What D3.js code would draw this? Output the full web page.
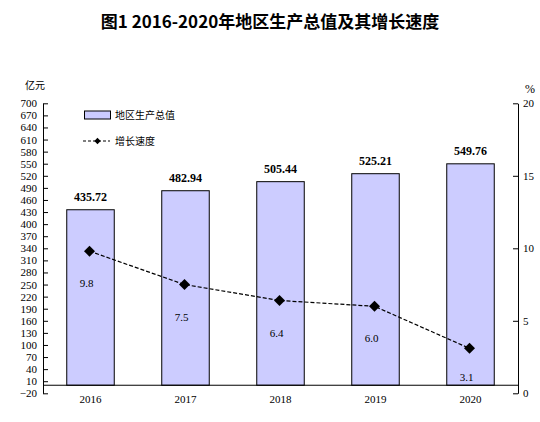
<!DOCTYPE html>
<html>
<head>
<meta charset="utf-8">
<script src="https://cdn.jsdelivr.net/npm/d3@7"></script>
<style>
  body { margin: 0; background: #fff; }
  svg { display: block; }
</style>
</head>
<body>
<div id="container"></div>
<script>
// chart data
const years = [ '2016', '2017', '2018', '2019', '2020' ];
const gdpValues = [ 435.72, 482.94, 505.44, 525.21, 549.76 ];
const growthValues = [ 9.8, 7.5, 6.4, 6.0, 3.1 ];
const leftTicks = d3.range( -20, 701, 30 );
const rightTicks = [ 0, 5, 10, 15, 20 ];

const width = 540;
const height = 422;
const numFont = '"Liberation Serif", "DejaVu Serif", serif';
const cjkFont = '"Noto Sans CJK SC", sans-serif';

//_____ SVG _____
const svg = d3.select( '#container' )
  .append( 'svg' )
  .attr( 'width', width )
  .attr( 'height', height );

//_____ SCALES _____
const x = d3.scaleBand()
  .domain( years )
  .range( [ 43, 518 ] )
  .paddingInner( 0.5 )
  .paddingOuter( 0.25 );

const yLeft = d3.scaleLinear()
  .domain( [ -20, 700 ] )
  .range( [ 393.3, 103.3 ] );

const yRight = d3.scaleLinear()
  .domain( [ 0, 20 ] )
  .range( [ 393.3, 103.3 ] );

//_____ TITLE _____
svg.append( 'text' )
  .attr( 'x', 270 )
  .attr( 'y', 28 )
  .attr( 'text-anchor', 'middle' )
  .style( 'font-family', cjkFont )
  .style( 'font-size', '17px' )
  .style( 'font-weight', 'bold' )
  .text( '图1 2016-2020年地区生产总值及其增长速度' );

//_____ AXES _____
const leftAxis = d3.axisLeft( yLeft )
  .tickValues( leftTicks )
  .tickSizeInner( -5 )
  .tickSizeOuter( 0 )
  .tickPadding( 6 );

const gLeft = svg.append( 'g' )
  .attr( 'transform', 'translate(43,0)' )
  .call( leftAxis );

const rightAxis = d3.axisRight( yRight )
  .tickValues( rightTicks )
  .tickSizeInner( -5 )
  .tickSizeOuter( 0 );

const gRight = svg.append( 'g' )
  .attr( 'transform', 'translate(518,0)' )
  .call( rightAxis );

[ gLeft, gRight ].forEach( g => {
  g.selectAll( 'path, line' ).attr( 'stroke', '#000' ).attr( 'stroke-width', 1 );
  g.selectAll( 'text' )
    .style( 'font-family', numFont )
    .style( 'font-size', '11px' )
    .attr( 'fill', '#000' );
} );
gLeft.selectAll( 'text' ).attr( 'x', -6 );
gRight.selectAll( 'text' ).attr( 'x', 5 );

// unit labels
svg.append( 'text' )
  .attr( 'x', 35 )
  .attr( 'y', 89 )
  .attr( 'text-anchor', 'middle' )
  .style( 'font-family', cjkFont )
  .style( 'font-size', '10px' )
  .text( '亿元' );

svg.append( 'text' )
  .attr( 'x', 530 )
  .attr( 'y', 93 )
  .attr( 'text-anchor', 'middle' )
  .style( 'font-family', numFont )
  .style( 'font-size', '12px' )
  .text( '%' );

//_____ BARS _____
svg.selectAll( '.bar' )
  .data( gdpValues )
  .enter()
  .append( 'rect' )
  .attr( 'class', 'bar' )
  .attr( 'x', ( d, i ) => x( years[ i ] ) )
  .attr( 'width', x.bandwidth() )
  .attr( 'y', d => yLeft( d ) )
  .attr( 'height', d => yLeft( 0 ) - yLeft( d ) )
  .attr( 'fill', '#ccccff' )
  .attr( 'stroke', '#000' )
  .attr( 'stroke-width', 1 );

// zero baseline
svg.append( 'line' )
  .attr( 'x1', 43 )
  .attr( 'x2', 518 )
  .attr( 'y1', yLeft( 0 ) )
  .attr( 'y2', yLeft( 0 ) )
  .attr( 'stroke', '#000' );

// bar value labels
svg.selectAll( '.bar-label' )
  .data( gdpValues )
  .enter()
  .append( 'text' )
  .attr( 'class', 'bar-label' )
  .attr( 'x', ( d, i ) => x( years[ i ] ) + x.bandwidth() / 2 )
  .attr( 'y', d => yLeft( d ) - 9 )
  .attr( 'text-anchor', 'middle' )
  .style( 'font-family', numFont )
  .style( 'font-size', '12px' )
  .style( 'font-weight', 'bold' )
  .text( d => d.toFixed( 2 ) );

// year labels
svg.selectAll( '.year-label' )
  .data( years )
  .enter()
  .append( 'text' )
  .attr( 'class', 'year-label' )
  .attr( 'x', d => x( d ) + x.bandwidth() / 2 )
  .attr( 'y', 403 )
  .attr( 'text-anchor', 'middle' )
  .style( 'font-family', numFont )
  .style( 'font-size', '11px' )
  .text( d => d );

//_____ GROWTH LINE _____
const cx = i => x( years[ i ] ) + x.bandwidth() / 2 - 1;

const line = d3.line()
  .x( ( d, i ) => cx( i ) )
  .y( d => yRight( d ) );

svg.append( 'path' )
  .datum( growthValues )
  .attr( 'd', line )
  .attr( 'fill', 'none' )
  .attr( 'stroke', '#000' )
  .attr( 'stroke-width', 1.2 )
  .attr( 'stroke-dasharray', '4,2' );

const diamond = d3.symbol().type( d3.symbolSquare ).size( 60 );

svg.selectAll( '.marker' )
  .data( growthValues )
  .enter()
  .append( 'path' )
  .attr( 'class', 'marker' )
  .attr( 'd', diamond )
  .attr( 'transform', ( d, i ) => `translate(${cx( i )},${yRight( d )}) rotate(45)` )
  .attr( 'fill', '#000' );

svg.selectAll( '.growth-label' )
  .data( growthValues )
  .enter()
  .append( 'text' )
  .attr( 'class', 'growth-label' )
  .attr( 'x', ( d, i ) => cx( i ) - 3 )
  .attr( 'y', d => Math.min( yRight( d ) + 36, yLeft( 0 ) - 4 ) )
  .attr( 'text-anchor', 'middle' )
  .style( 'font-family', numFont )
  .style( 'font-size', '11px' )
  .text( d => d.toFixed( 1 ) );

//_____ LEGEND _____
const legend = svg.append( 'g' );

legend.append( 'rect' )
  .attr( 'x', 84.5 )
  .attr( 'y', 111 )
  .attr( 'width', 26 )
  .attr( 'height', 8 )
  .attr( 'fill', '#ccccff' )
  .attr( 'stroke', '#000' );

legend.append( 'text' )
  .attr( 'x', 115 )
  .attr( 'y', 118.5 )
  .style( 'font-family', cjkFont )
  .style( 'font-size', '10px' )
  .text( '地区生产总值' );

legend.append( 'line' )
  .attr( 'x1', 83 )
  .attr( 'x2', 110 )
  .attr( 'y1', 141 )
  .attr( 'y2', 141 )
  .attr( 'stroke', '#000' )
  .attr( 'stroke-width', 1.2 )
  .attr( 'stroke-dasharray', '3,2' );

legend.append( 'path' )
  .attr( 'd', d3.symbol().type( d3.symbolSquare ).size( 20 ) )
  .attr( 'transform', 'translate(97.5,141) rotate(45)' )
  .attr( 'fill', '#000' );

legend.append( 'text' )
  .attr( 'x', 115 )
  .attr( 'y', 145 )
  .style( 'font-family', cjkFont )
  .style( 'font-size', '10px' )
  .text( '增长速度' );
</script>
</body>
</html>
